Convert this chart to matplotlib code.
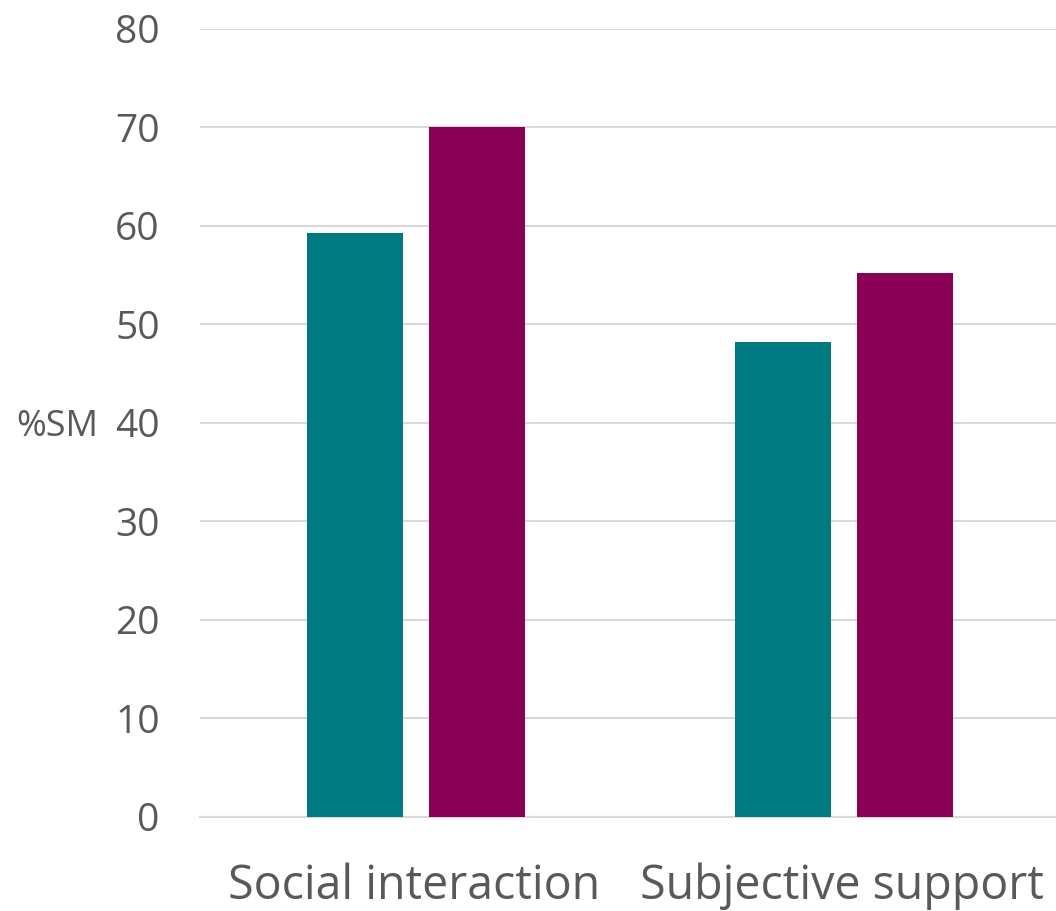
import matplotlib as mpl
import matplotlib.pyplot as plt
import numpy as np

mpl.rcParams["font.family"] = ["Open Sans", "DejaVu Sans"]

TEXT = "#595959"
GRID = "#d9d9d9"

categories = ["Social interaction", "Subjective support"]
series_a = [59.3, 48.2]
series_b = [70.0, 55.2]
colors = ["#007a80", "#8b0057"]
yticks = [0, 10, 20, 30, 40, 50, 60, 70, 80]

fig = plt.figure(figsize=(10.56, 9.11), dpi=100)
ax = fig.add_axes([0.1894, 0.1032, 0.8106, 0.865])

x = np.arange(len(categories))
width = 0.224
offset = 0.1425
ax.bar(x - offset + 0.004, series_a, width, color=colors[0], zorder=3)
ax.bar(x + offset + 0.004, series_b, width, color=colors[1], zorder=3)

ax.set_xlim(-0.5, 1.5)
ax.set_ylim(0, 80)
ax.set_yticks(yticks)
ax.yaxis.grid(True, color=GRID, linewidth=1.5, zorder=0)
ax.set_xticks(x)
ax.set_xticklabels(categories, fontsize=33.5, color=TEXT)
ax.tick_params(axis="y", labelsize=28, colors=TEXT, length=0, pad=29)
ax.tick_params(axis="x", length=0, pad=33)
for side in ["top", "right", "left"]:
    ax.spines[side].set_visible(False)
ax.spines["bottom"].set_color(GRID)
ax.spines["bottom"].set_linewidth(1.5)

fig.text(0.015, 0.531, "%SM", fontsize=26, color=TEXT, va="center", ha="left")

fig.savefig("out.png", dpi=100)
